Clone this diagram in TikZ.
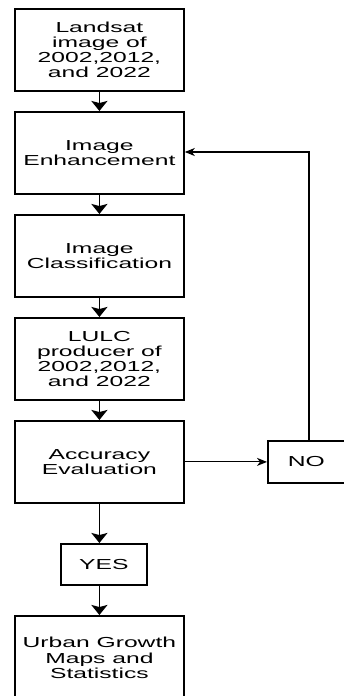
\documentclass[tikz,border=0pt]{standalone}
\usepackage{fontspec}
\newfontfamily\wide[FakeStretch=1.7]{Liberation Sans}
\usetikzlibrary{arrows.meta}
\tikzset{
  box/.style={draw, line width=1.8pt, align=center, inner sep=0pt, anchor=north west,
    font=\wide\fontsize{14.5}{15.2}\selectfont},
  down/.style={line width=1.8pt, -{Stealth[length=10pt,width=16pt,inset=2pt]}},
  back/.style={line width=1.1pt, -{Stealth[length=10pt,width=8pt,inset=3pt]}}
}
\begin{document}
\begin{tikzpicture}[x=1pt,y=-1pt]
\useasboundingbox[fill=white] (0,0) rectangle (343,696);
\node[box, minimum width=169pt, minimum height=82pt] (b1) at (14,8) {Landsat\\image of\\2002,2012,\\and 2022};
\node[box, minimum width=169pt, minimum height=82pt] (b2) at (14,111) {Image\\Enhancement};
\node[box, minimum width=169pt, minimum height=82pt] (b3) at (14,214) {Image\\Classification};
\node[box, minimum width=169pt, minimum height=82pt] (b4) at (14,317) {LULC\\producer of\\2002,2012,\\and 2022};
\node[box, minimum width=169pt, minimum height=82pt] (b5) at (14,420) {Accuracy\\Evaluation};
\node[box, minimum width=86pt, minimum height=41pt] (yes) at (60,543) {YES};
\node[box, minimum width=169pt, minimum height=84pt] (b7) at (14,615) {Urban Growth\\Maps and\\Statistics};
\node[box, minimum width=77pt, minimum height=42pt] (no) at (267,440) {NO};
\coordinate (turn) at (309,152);
\draw[down] (b1.south) -- (b2.north);
\draw[down] (b2.south) -- (b3.north);
\draw[down] (b3.south) -- (b4.north);
\draw[down] (b4.south) -- (b5.north);
\draw[down] (b5.south) -- (b5.south |- yes.north);
\draw[down] (b5.south |- yes.south) -- (b7.north);
\draw[back] (b5.east |- no.west) -- (no.west);
\draw[back] (no.north -| turn) -- (turn) -- (turn -| b2.east);
\end{tikzpicture}
\end{document}
